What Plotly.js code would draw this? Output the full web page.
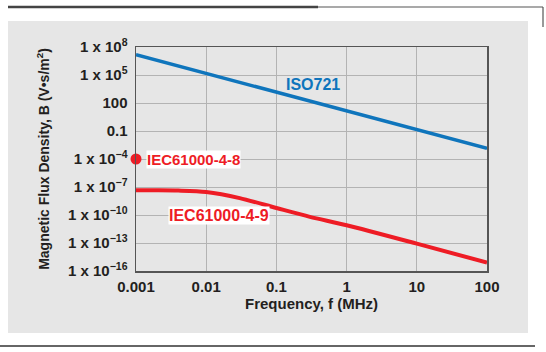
<!DOCTYPE html>
<html>
<head>
<meta charset="utf-8">
<script src="https://cdn.plot.ly/plotly-3.0.1.min.js"></script>
<style>html,body{margin:0;padding:0;background:#fff;}#chart{width:546px;height:352px;}</style>
</head>
<body>
<div id="chart"></div>
<script>
// Frequency (MHz)
const isoFreq = [0.001, 0.01, 0.1, 1, 10, 100];
// ISO721 magnetic flux density (V·s/m²)
const isoB = [1.5e7, 1.5e5, 1.5e3, 15, 0.15, 1.4e-3];

const iec9Freq = [0.001, 0.002, 0.004, 0.01, 0.03, 0.1, 0.3, 1, 10, 100];
const iec9B = [4.4e-8, 4.4e-8, 4.1e-8, 2.9e-8, 6.5e-9, 5.6e-10, 6.3e-11, 8e-12, 8.5e-14, 8e-16];

const iec8Freq = [0.001];
const iec8B = [1e-4];

const xTickVals = [0.001, 0.01, 0.1, 1, 10, 100];
const xTickText = ['0.001', '0.01', '0.1', '1', '10', '100'];
const yTickVals = [1e8, 1e5, 100, 0.1, 1e-4, 1e-7, 1e-10, 1e-13, 1e-16];
const yTickText = ['1 x 10<sup>8</sup>', '1 x 10<sup>5</sup>', '100', '0.1',
  '1 x 10<sup>\u22124</sup>', '1 x 10<sup>\u22127</sup>', '1 x 10<sup>\u221210</sup>',
  '1 x 10<sup>\u221213</sup>', '1 x 10<sup>\u221216</sup>'];

const RED = '#ee1c25';
const BLUE = '#0f75bc';
const FONT = 'Liberation Sans, Arial, sans-serif';

const traces = [
  {x: isoFreq, y: isoB, mode: 'lines', line: {color: BLUE, width: 3.5}, hoverinfo: 'none'},
  {x: iec9Freq, y: iec9B, mode: 'lines', line: {color: RED, width: 4, shape: 'spline', smoothing: 0.8}, hoverinfo: 'none'},
  {x: iec8Freq, y: iec8B, mode: 'markers', marker: {color: RED, size: 11}, cliponaxis: false, hoverinfo: 'none'}
];

// plot box: x 136..487, y 47..271
const L = 136, R = 546 - 487, T = 47, B = 352 - 271;
const pw = 546 - L - R, ph = 352 - T - B;
const px = v => (v - L) / pw;
const py = v => (352 - B - v) / ph;

const layout = {
  width: 546, height: 352,
  margin: {l: L, r: R, t: T, b: B},
  paper_bgcolor: '#ffffff',
  plot_bgcolor: '#ffffff',
  showlegend: false,
  font: {family: FONT, color: '#231f20'},
  xaxis: {
    type: 'log', range: [-3, 2],
    tickvals: xTickVals, ticktext: xTickText,
    tickfont: {family: FONT, size: 15, weight: 'bold', color: '#231f20'},
    showgrid: true, gridcolor: '#b3b3b3', gridwidth: 1,
    showline: true, linecolor: '#555555', linewidth: 1.5, mirror: true,
    ticks: '', ticklen: 0, zeroline: false, ticklabelstandoff: 1,
    title: {text: 'Frequency, f (MHz)', font: {family: FONT, size: 15, weight: 'bold', color: '#231f20'}, standoff: 4}
  },
  yaxis: {
    type: 'log', range: [-16, 8],
    tickvals: yTickVals, ticktext: yTickText,
    tickfont: {family: FONT, size: 15, weight: 'bold', color: '#231f20'},
    showgrid: true, gridcolor: '#b3b3b3', gridwidth: 1,
    showline: true, linecolor: '#555555', linewidth: 1.5, mirror: true,
    ticks: '', ticklen: 0, zeroline: false, ticklabelstandoff: 4,
    title: {text: 'Magnetic Flux Density, B (V\u2022s/m<sup>2</sup>)', font: {family: FONT, size: 14, weight: 'bold', color: '#231f20'}, standoff: 15}
  },
  shapes: [
    {type: 'rect', xref: 'paper', yref: 'paper', x0: px(8), x1: px(528), y0: py(333), y1: py(21),
     fillcolor: '#e6e6e6', line: {width: 0}, layer: 'below'},
    {type: 'line', xref: 'paper', yref: 'paper', x0: px(8), x1: px(318), y0: py(7), y1: py(7),
     line: {color: '#444444', width: 2.5}},
    {type: 'line', xref: 'paper', yref: 'paper', x0: px(318), x1: px(543), y0: py(7), y1: py(7),
     line: {color: '#555555', width: 1.2}},
    {type: 'line', xref: 'paper', yref: 'paper', x0: px(543), x1: px(543), y0: py(7), y1: py(27),
     line: {color: '#555555', width: 1.2}},
    {type: 'line', xref: 'paper', yref: 'paper', x0: px(0), x1: px(535), y0: py(346), y1: py(346),
     line: {color: '#666666', width: 2}}
  ],
  annotations: [
    {x: -0.48, y: 4.0, xref: 'x', yref: 'y', text: 'ISO721', showarrow: false,
     font: {family: FONT, size: 16, weight: 'bold', color: BLUE}},
    {x: -2.86, y: -4, xref: 'x', yref: 'y', text: 'IEC61000-4-8', showarrow: false, xanchor: 'left',
     bgcolor: '#ffffff', borderpad: 0,
     font: {family: FONT, size: 15, weight: 'bold', color: RED}},
    {x: -1.82, y: -10, xref: 'x', yref: 'y', text: 'IEC61000-4-9', showarrow: false,
     bgcolor: '#ffffff', borderpad: 0,
     font: {family: FONT, size: 16, weight: 'bold', color: RED}}
  ]
};

Plotly.newPlot('chart', traces, layout, {displayModeBar: false, staticPlot: true});
</script>
</body>
</html>
